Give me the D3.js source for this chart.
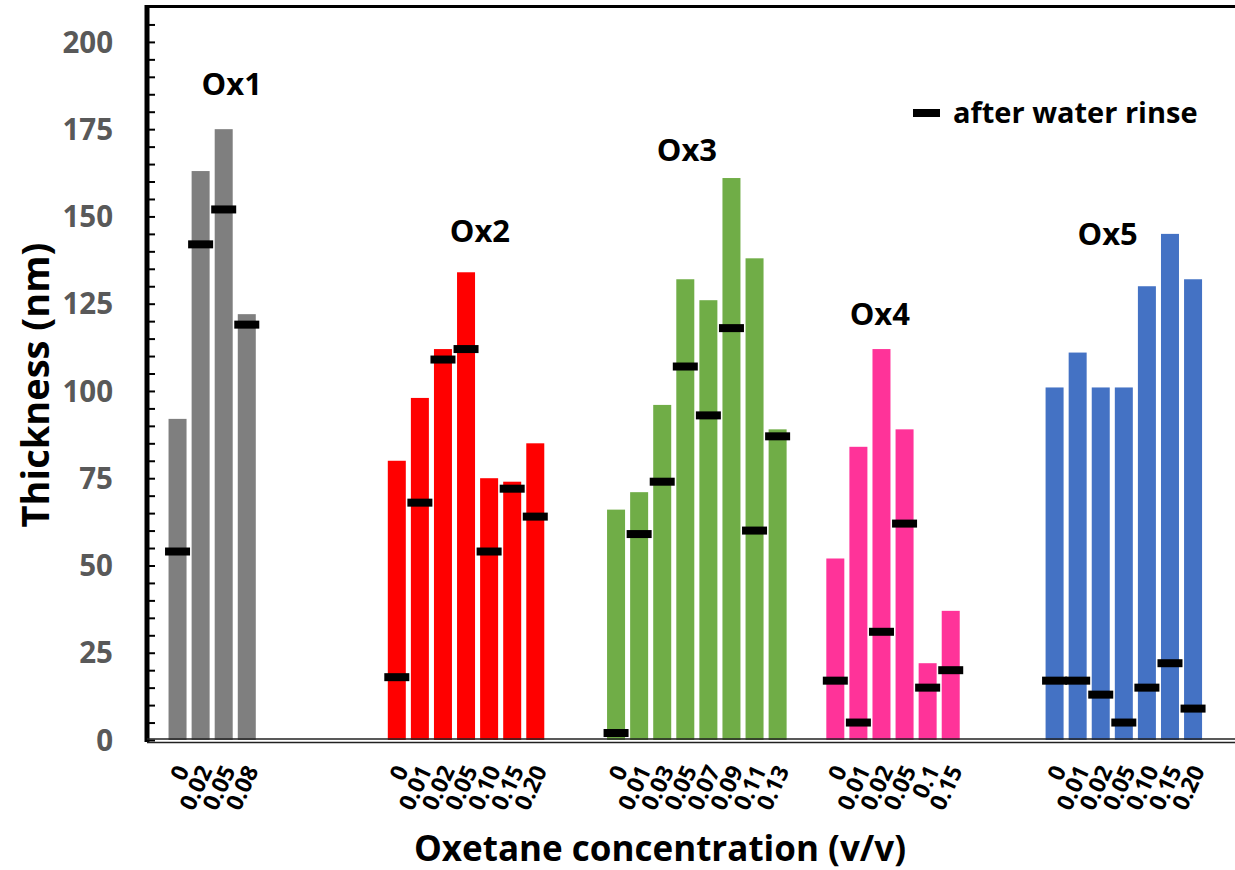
<!DOCTYPE html>
<html>
<head>
<meta charset="utf-8">
<script src="https://cdn.jsdelivr.net/npm/d3@7"></script>
<style>
  body { margin: 0; background: #fff; }
  svg { display: block; font-family: "Open Sans", Lato, sans-serif; }
</style>
</head>
<body>
<div id="chart"></div>
<script>
// oxetane series, each with its own concentrations
var groups = ["Ox1", "Ox2", "Ox3", "Ox4", "Ox5"];
var colors = ["#7f7f7f", "#ff0000", "#70ad47", "#ff3399", "#4472c4"];

var concLabels = [
    ["0", "0.02", "0.05", "0.08"],
    ["0", "0.01", "0.02", "0.05", "0.10", "0.15", "0.20"],
    ["0", "0.01", "0.03", "0.05", "0.07", "0.09", "0.11", "0.13"],
    ["0", "0.01", "0.02", "0.05", "0.1", "0.15"],
    ["0", "0.01", "0.02", "0.05", "0.10", "0.15", "0.20"]
];

// thickness as cast (nm)
var thickness = [
    [92, 163, 175, 122],
    [80, 98, 112, 134, 75, 74, 85],
    [66, 71, 96, 132, 126, 161, 138, 89],
    [52, 84, 112, 89, 22, 37],
    [101, 111, 101, 101, 130, 145, 132]
];

// thickness after water rinse (nm)
var rinse = [
    [54, 142, 152, 119],
    [18, 68, 109, 112, 54, 72, 64],
    [2, 59, 74, 107, 93, 118, 60, 87],
    [17, 5, 31, 62, 15, 20],
    [17, 17, 13, 5, 15, 22, 9]
];

// where the group names sit, in (slot inside group, nm)
var labelAt = [[2.85, 188], [4.1, 146], [3.57, 169], [2.43, 122], [2.8, 145]];

var yTicks = [0, 25, 50, 75, 100, 125, 150, 175, 200];

var W = 1235, H = 870;
var mLeft = 147, mBottom = 740, mTop = 7;

var svg = d3.select("#chart").append("svg")
    .attr("width", W)
    .attr("height", H);

var y = d3.scaleLinear().domain([0, 210]).range([mBottom, mTop]);

// every group gets the same width of 9.5 bar slots
var slots = 9.5;
var pitch = 23.08;
var xg = d3.scaleBand().domain(groups).range([166, 166 + groups.length * slots * pitch]);
var xi = d3.scaleLinear().domain([0, slots]).range([0, xg.bandwidth()]);
var barW = xi(1) * 0.78;

// flatten into one bar list
var bars = [];
groups.forEach(function(g, gi) {
    thickness[gi].forEach(function(v, i) {
        bars.push({g: g, gi: gi, i: i, v: v, r: rinse[gi][i], lab: concLabels[gi][i],
                   cx: xg(g) + xi(i + 0.5)});
    });
});

svg.append("g").selectAll("rect")
    .data(bars)
    .enter().append("rect")
    .attr("x", function(d) { return d.cx - barW / 2; })
    .attr("width", barW)
    .attr("y", function(d) { return y(d.v); })
    .attr("height", function(d) { return y(0) - y(d.v); })
    .attr("fill", function(d) { return colors[d.gi]; });

// rinse markers
svg.append("g").selectAll("rect")
    .data(bars)
    .enter().append("rect")
    .attr("x", function(d) { return d.cx - 12.5; })
    .attr("width", 25)
    .attr("y", function(d) { return y(d.r) - 4; })
    .attr("height", 8)
    .attr("fill", "#000");

// y axis: minor ticks every 5 nm, pointing inward
var yAxis = d3.axisRight(y)
    .tickValues(d3.range(0, 206, 5))
    .tickSize(8)
    .tickFormat("");
var ya = svg.append("g")
    .attr("transform", "translate(" + mLeft + ",0)")
    .call(yAxis);
ya.select(".domain").remove();
ya.selectAll("line").attr("stroke", "#000").attr("stroke-width", 2);

svg.append("line")
    .attr("x1", mLeft).attr("x2", mLeft)
    .attr("y1", mTop - 2).attr("y2", mBottom + 2)
    .attr("stroke", "#000").attr("stroke-width", 5);

svg.append("g").selectAll("text")
    .data(yTicks)
    .enter().append("text")
    .attr("x", 113)
    .attr("y", function(d) { return y(d); })
    .attr("dy", "0.36em")
    .attr("text-anchor", "end")
    .attr("fill", "#595959")
    .style("font-size", "29.5px")
    .style("font-weight", 700)
    .text(function(d) { return d; });

// frame top and double bottom rule
svg.append("line")
    .attr("x1", mLeft - 2).attr("x2", W)
    .attr("y1", 6.5).attr("y2", 6.5)
    .attr("stroke", "#000").attr("stroke-width", 3);
svg.append("line")
    .attr("x1", mLeft).attr("x2", W)
    .attr("y1", mBottom - 1).attr("y2", mBottom - 1)
    .attr("stroke", "#222").attr("stroke-width", 1.6);
svg.append("line")
    .attr("x1", mLeft).attr("x2", W)
    .attr("y1", mBottom + 2.5).attr("y2", mBottom + 2.5)
    .attr("stroke", "#222").attr("stroke-width", 1.6);

// concentration labels, tilted
svg.append("g").selectAll("text")
    .data(bars)
    .enter().append("text")
    .attr("transform", function(d) { return "translate(" + (d.cx + 5) + ",767) rotate(-65)"; })
    .attr("text-anchor", "end")
    .attr("dy", "0.35em")
    .style("font-size", "23px")
    .style("font-weight", 700)
    .attr("fill", "#000")
    .text(function(d) { return d.lab; });

// group names
svg.append("g").selectAll("text")
    .data(groups)
    .enter().append("text")
    .attr("x", function(g, gi) { return xg(g) + xi(labelAt[gi][0]); })
    .attr("y", function(g, gi) { return y(labelAt[gi][1]); })
    .attr("dy", "0.36em")
    .attr("text-anchor", "middle")
    .style("font-size", "31px")
    .style("font-weight", 700)
    .text(function(g) { return g; });

// legend
svg.append("rect")
    .attr("x", 913).attr("y", 109)
    .attr("width", 27).attr("height", 8)
    .attr("fill", "#000");
svg.append("text")
    .attr("x", 953).attr("y", 113)
    .attr("dy", "0.36em")
    .style("font-size", "29px")
    .style("font-weight", 700)
    .text("after water rinse");

// axis titles
svg.append("text")
    .attr("transform", "translate(35,385) rotate(-90)")
    .attr("text-anchor", "middle")
    .attr("dy", "0.36em")
    .style("font-size", "38px")
    .style("font-weight", 700)
    .text("Thickness (nm)");

svg.append("text")
    .attr("x", 660).attr("y", 848)
    .attr("text-anchor", "middle")
    .attr("dy", "0.36em")
    .style("font-size", "35px")
    .style("font-weight", 700)
    .text("Oxetane concentration (v/v)");
</script>
</body>
</html>
